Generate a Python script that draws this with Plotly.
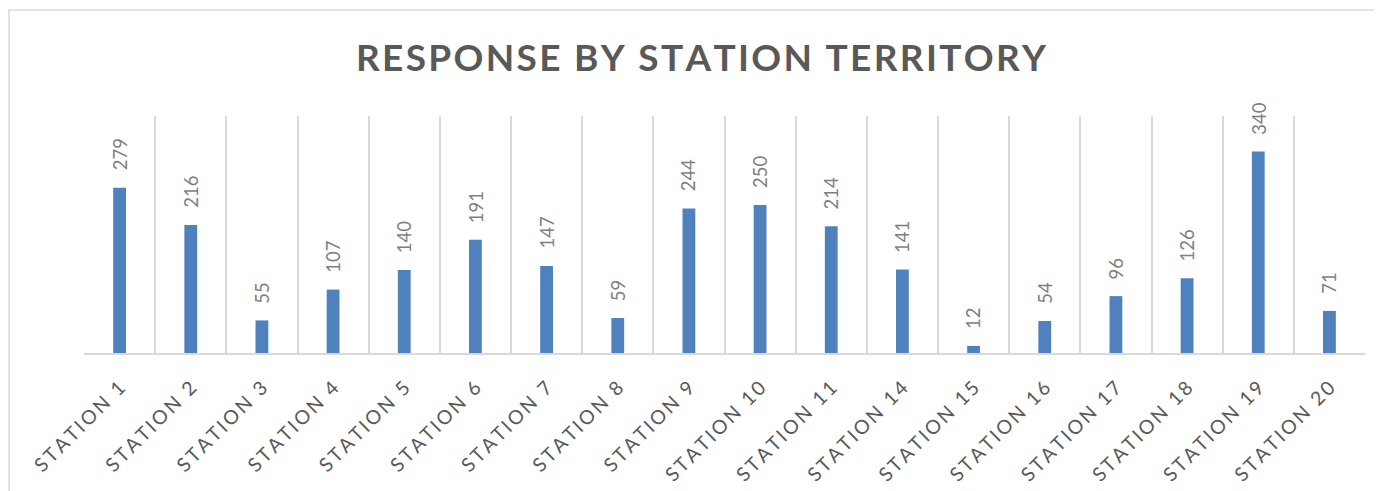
"""Response by station territory - column chart."""

import plotly.graph_objects as go

stations = [
    "STATION 1", "STATION 2", "STATION 3", "STATION 4", "STATION 5", "STATION 6",
    "STATION 7", "STATION 8", "STATION 9", "STATION 10", "STATION 11", "STATION 14",
    "STATION 15", "STATION 16", "STATION 17", "STATION 18", "STATION 19", "STATION 20",
]
responses = [279, 216, 55, 107, 140, 191, 147, 59, 244, 250, 214, 141, 12, 54, 96, 126, 340, 71]

title_text = "RESPONSE BY STATION TERRITORY"

BAR = "#4f81bd"
GRID = "#d9d9d9"
LABEL = "#7f7f7f"
TEXT = "#595959"
FONT = "Lato"

# page body has an 8px margin, so the figure is a bit smaller than the window
W, H = 1374, 483
L, R, T, B = 76, 17, 108, 138
PW, PH = W - L - R, H - T - B


def spaced(s: str, gap: str = "\u2009") -> str:
    # excel-style character spacing
    return gap.join(s)


fig = go.Figure(
    go.Bar(
        x=stations,
        y=responses,
        width=0.18,
        marker=dict(color=BAR, line=dict(width=0)),
        hoverinfo="x+y",
    )
)

for name, val in zip(stations, responses):
    fig.add_annotation(
        x=name,
        y=val,
        text=str(val),
        textangle=-90,
        showarrow=False,
        xanchor="center",
        yanchor="bottom",
        yshift=15,
        font=dict(family=FONT, size=18.5, color=LABEL),
    )

fig.update_layout(
    width=W,
    height=H,
    paper_bgcolor="white",
    plot_bgcolor="white",
    showlegend=False,
    margin=dict(l=L, r=R, t=T, b=B),
    title=dict(
        text=spaced(title_text, "\u200a"),
        x=693 / W,
        xanchor="center",
        y=1 - 50 / H,
        yanchor="middle",
        font=dict(family=FONT, size=37, color=TEXT, weight="bold"),
    ),
    shapes=[
        dict(
            type="rect", xref="paper", yref="paper",
            x0=-(L - 1) / PW, x1=1.1, y0=-0.8, y1=1 + (T - 2) / PH,
            line=dict(color=GRID, width=1.5), fillcolor="rgba(0,0,0,0)", layer="below",
        )
    ],
)

fig.update_xaxes(
    type="category",
    tickson="boundaries",
    showgrid=True,
    gridcolor=GRID,
    gridwidth=1.5,
    showline=True,
    linecolor=GRID,
    linewidth=1.5,
    ticks="",
    ticklabelstandoff=14,
    tickangle=-45,
    ticktext=[spaced(s) for s in stations],
    tickvals=stations,
    tickfont=dict(family=FONT, size=19.5, color=TEXT),
    automargin=False,
    fixedrange=True,
)
fig.update_yaxes(
    range=[0, 400],
    showgrid=False,
    showticklabels=False,
    zeroline=False,
    showline=False,
    fixedrange=True,
)

fig.write_html("out.html")
